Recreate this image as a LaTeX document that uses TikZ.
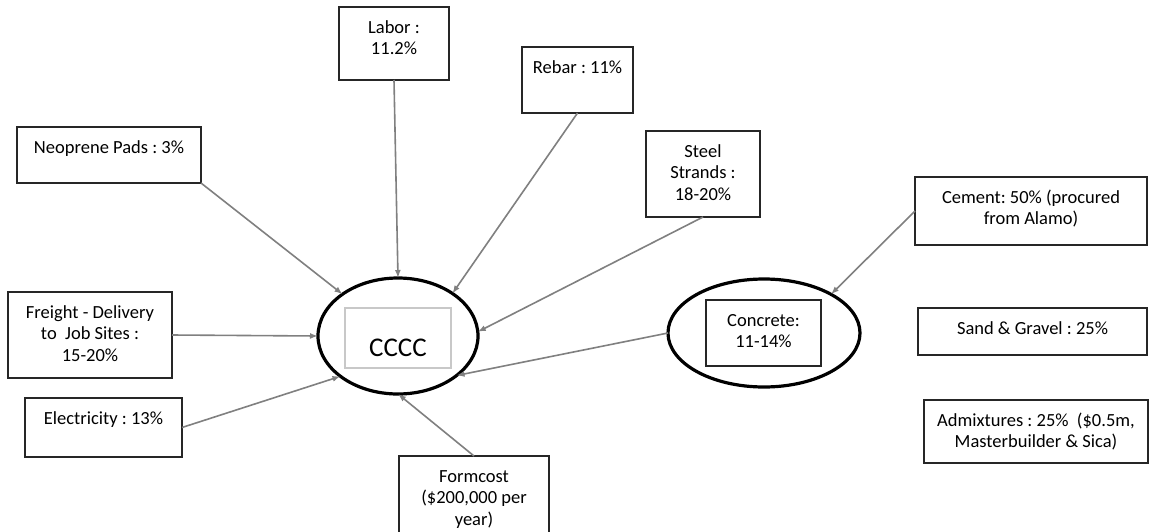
\documentclass[tikz,border=0pt]{standalone}
\usepackage{fontspec}
\setmainfont{Carlito}
\usetikzlibrary{shapes.geometric,arrows.meta}
\definecolor{conngray}{HTML}{808080}
\definecolor{boxline}{HTML}{262626}
\definecolor{innergray}{HTML}{C8C8C8}
\frenchspacing
\newcommand{\bxt}[3]{\begin{minipage}[c][#2pt][t]{#1pt}\centering\frenchspacing\vspace*{11pt}\strut #3\end{minipage}}
\begin{document}
\begin{tikzpicture}[x=1pt,y=-1pt,
  every node/.style={font=\fontsize{18.5}{21.5}\selectfont, inner sep=0pt, outer sep=0pt},
  box/.style={draw=boxline, line width=1.9pt, rectangle},
  bigell/.style={draw=black, line width=3.2pt, ellipse},
  innerbox/.style={draw=innergray, line width=1.5pt, rectangle},
  conn/.style={draw=conngray, line width=1.6pt, -{Latex[length=8pt,width=6pt]}}]
\clip (0,0) rectangle (1149,531);
\fill[white] (0,0) rectangle (1149,531);

% boxes
\node[box] (labor) at (394,43.5) {\bxt{110}{73}{Labor :\\11.2\%}};
\node[box] (rebar) at (577.5,80) {\bxt{111}{66}{Rebar : 11\%}};
\node[box] (neo) at (109,155) {\bxt{184}{56}{Neoprene Pads : 3\%}};
\node[box] (steel) at (703,174) {\bxt{114}{86}{Steel\\Strands :\\18-20\%}};
\node[box] (cement) at (1031,211) {\bxt{232}{68}{Cement: 50\% (procured\\from Alamo)}};
\node[box] (freight) at (90,335) {\bxt{164}{86}{Freight - Delivery\\to\ \ Job Sites :\\15-20\%}};
\node[box] (sand) at (1032.5,331.5) {\bxt{229}{47}{Sand \& Gravel : 25\%}};
\node[box] (elec) at (103.5,427.5) {\bxt{157}{59}{Electricity : 13\%}};
\node[box] (admix) at (1036,431.5) {\bxt{224}{63}{Admixtures : 25\%\ \ (\$0.5m,\\Masterbuilder \& Sica)}};
\node[box] (form) at (474,501) {\bxt{150}{90}{Formcost\\(\$200,000 per\\year)}};

% CCCC
\node[bigell, minimum width=160pt, minimum height=116pt] (cccc) at (398,336) {};
\node[innerbox, minimum width=106pt, minimum height=60pt] (ccbox) at (398,338) {};
\node[font=\fontsize{27}{30}\selectfont] (cccct) at (398,348) {CCCC};

% Concrete
\node[bigell, minimum width=192pt, minimum height=108pt] (conc) at (764,333) {};
\node[box] (concbox) at (763.5,333) {\bxt{115}{66}{Concrete:\\11-14\%}};

% connectors
\draw[conn] (neo.south east) -- (cccc.143);
\draw[conn] (labor.south) -- (cccc.north);
\draw[conn] (rebar.south) -- (cccc.38);
\draw[conn] (steel.south) -- (cccc.3);
\draw[conn] (conc.west) -- (cccc.326);
\draw[conn] (freight.east) -- (cccc.west);
\draw[conn] (elec.east) -- (cccc.215);
\draw[conn] (form.north) -- (cccc.south);
\draw[conn] (cement.west) -- (conc.30);
\end{tikzpicture}
\end{document}
